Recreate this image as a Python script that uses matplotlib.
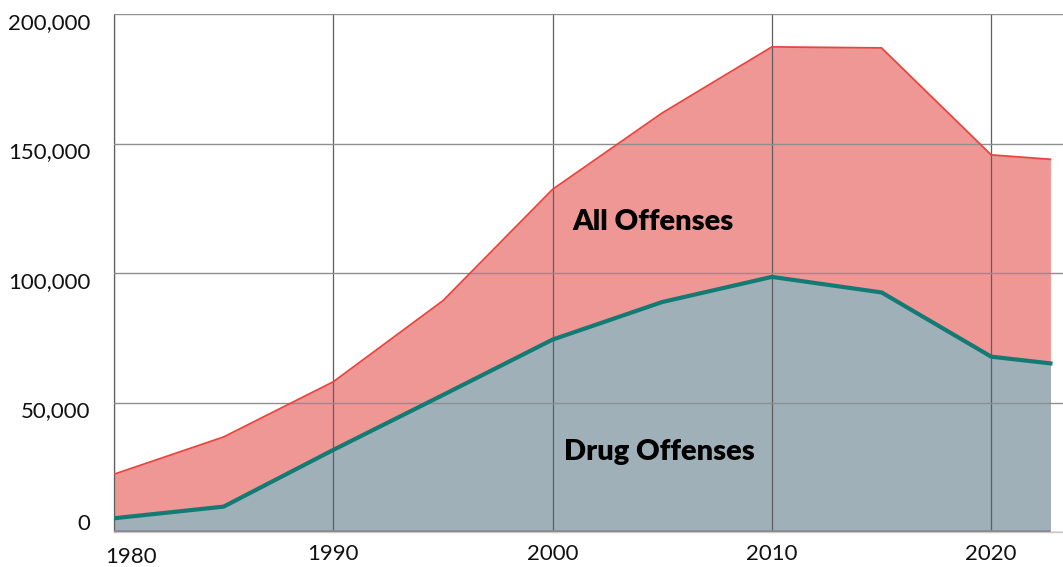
import matplotlib
matplotlib.use("Agg")
import matplotlib.pyplot as plt
from matplotlib.ticker import FuncFormatter
from matplotlib.transforms import ScaledTranslation

# Federal prison population by offense type
years = [1980, 1985, 1990, 1995, 2000, 2005, 2010, 2015, 2020, 2022.7]
all_offenses = [22300, 36700, 58000, 89300, 132300, 161800, 187300, 186900, 145600, 143900]
drug_offenses = [5300, 9800, 31700, 52900, 74300, 88800, 98500, 92500, 67700, 65100]

x_ticks = [1980, 1990, 2000, 2010, 2020]
y_ticks = [0, 50000, 100000, 150000, 200000]

RED_FILL = "#ef9795"
RED_LINE = "#e8453e"
GRAY_FILL = "#9fb0b8"
TEAL = "#147a74"

plt.rcParams["font.family"] = ["Lato", "DejaVu Sans"]

fig = plt.figure(figsize=(10.63, 5.67), dpi=100)
ax = fig.add_axes([114 / 1063, 35 / 567, 949 / 1063, 518 / 567])

ax.fill_between(years, 0, all_offenses, color=RED_FILL, lw=0, zorder=1)
ax.fill_between(years, 0, drug_offenses, color=GRAY_FILL, lw=0, zorder=1.1)
ax.plot(years, all_offenses, color=RED_LINE, lw=1.3, zorder=3, solid_joinstyle="round")
ax.plot(years, drug_offenses, color=TEAL, lw=3.0, zorder=3.1, solid_joinstyle="round")
ax.plot([years[0], years[-1]], [0, 0], color="#8b8890", lw=2.6, zorder=3.2,
        solid_capstyle="butt")

ax.set_xlim(1980, 1980 + 949 / 21.93)
ax.set_ylim(0, 200000)
ax.set_xticks(x_ticks)
ax.set_yticks(y_ticks)
ax.yaxis.set_major_formatter(FuncFormatter(lambda v, p: f"{int(v):,}"))

ax.set_axisbelow(False)
ax.yaxis.grid(True, color="#8f8f8f", lw=1.0)
ax.xaxis.grid(True, color="#5f5f5f", lw=0.9)

for side in ("top", "right"):
    ax.spines[side].set_visible(False)
ax.spines["left"].set_color("#9a9a9a")
ax.spines["left"].set_linewidth(1.0)
ax.spines["bottom"].set_color("#c8c8c8")
ax.spines["bottom"].set_linewidth(1.0)

ax.tick_params(axis="both", length=0, labelsize=16, colors="#111111")
ax.tick_params(axis="y", pad=17)
ax.tick_params(axis="x", pad=9)

# y labels sit a little below their gridlines; the zero label sits above the axis
fig.canvas.draw()
for tick in ax.yaxis.get_major_ticks():
    dy = 7 / 72 if tick.get_loc() == 0 else -5 / 72
    lbl = tick.label1
    lbl.set_transform(lbl.get_transform() + ScaledTranslation(0, dy, fig.dpi_scale_trans))
first = ax.xaxis.get_major_ticks()[0].label1
first.set_horizontalalignment("left")
first.set_transform(first.get_transform() + ScaledTranslation(-6 / 72, -2 / 72, fig.dpi_scale_trans))

ax.text(2004.6, 119700, "All Offenses", ha="center", va="center",
        fontsize=21, fontweight="heavy", color="#000000", zorder=5)
ax.text(2004.85, 30900, "Drug Offenses", ha="center", va="center",
        fontsize=21, fontweight="heavy", color="#000000", zorder=5)

fig.savefig("out.png", dpi=100)
